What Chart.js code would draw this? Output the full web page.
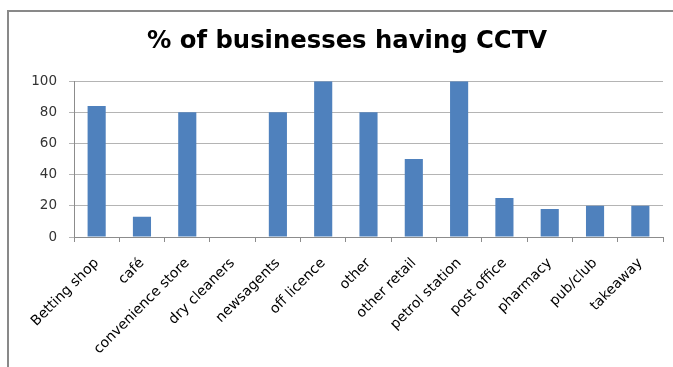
<!DOCTYPE html>
<html>
<head>
<meta charset="utf-8">
<script src="https://cdn.jsdelivr.net/npm/chart.js@4/dist/chart.umd.min.js"></script>
<style>
  html, body { margin: 0; padding: 0; background: #ffffff; }
  #wrap { position: relative; width: 673px; height: 367px; }
</style>
</head>
<body>
<div id="wrap"><canvas id="c" width="673" height="367"></canvas></div>
<script>
// Share of businesses in each category that have CCTV (percent)
const categories = ["Betting shop", "café", "convenience store", "dry cleaners", "newsagents",
  "off licence", "other", "other retail", "petrol station", "post office", "pharmacy",
  "pub/club", "takeaway"];
const cctvPercent = [84, 13, 80, 0, 80, 100, 80, 50, 100, 25, 18, 20, 20];
const yTicks = [0, 20, 40, 60, 80, 100];

const FONT = "'DejaVu Sans', Verdana, sans-serif";

// Thin grey frame along the left and top edges
const framePlugin = {
  id: 'frame',
  beforeDraw(chart) {
    const ctx = chart.ctx;
    ctx.save();
    ctx.strokeStyle = '#898989';
    ctx.lineWidth = 2;
    ctx.beginPath();
    ctx.moveTo(8, 367);
    ctx.lineTo(8, 11);
    ctx.lineTo(673, 11);
    ctx.stroke();
    ctx.restore();
  }
};

new Chart(document.getElementById('c'), {
  type: 'bar',
  data: {
    labels: categories,
    datasets: [{
      data: cctvPercent,
      backgroundColor: '#4F81BD',
      borderWidth: 0,
      barPercentage: 0.4,
      categoryPercentage: 1.0
    }]
  },
  options: {
    responsive: false,
    animation: false,
    devicePixelRatio: 1,
    layout: { padding: { left: 31, right: 10, top: 0, bottom: 0 } },
    plugins: {
      legend: { display: false },
      tooltip: { enabled: false },
      title: {
        display: true,
        text: '% of businesses having CCTV',
        color: '#000000',
        font: { family: FONT, size: 24.3, weight: 'bold', lineHeight: 1.2 },
        padding: { top: 27, bottom: 25 }
      }
    },
    scales: {
      x: {
        grid: {
          display: true,
          offset: true,
          drawOnChartArea: false,
          drawTicks: true,
          tickLength: 5,
          color: '#8c8c8c'
        },
        border: { display: true, color: '#8c8c8c', width: 1 },
        ticks: {
          autoSkip: false,
          maxRotation: 45,
          minRotation: 45,
          padding: 13,
          color: '#000000',
          font: { family: FONT, size: 14 }
        },
        afterFit(scale) { scale.height = 130; }
      },
      y: {
        min: 0,
        max: 100,
        afterBuildTicks(scale) { scale.ticks = yTicks.map(v => ({ value: v })); },
        grid: {
          color: '#b4b4b4',
          lineWidth: 1,
          drawTicks: true,
          tickLength: 5
        },
        border: { display: true, color: '#8c8c8c', width: 1 },
        ticks: {
          padding: 12,
          color: '#333333',
          font: { family: FONT, size: 13.5 }
        },
        afterFit(scale) { scale.width = 43; }
      }
    }
  },
  plugins: [framePlugin]
});
</script>
</body>
</html>
